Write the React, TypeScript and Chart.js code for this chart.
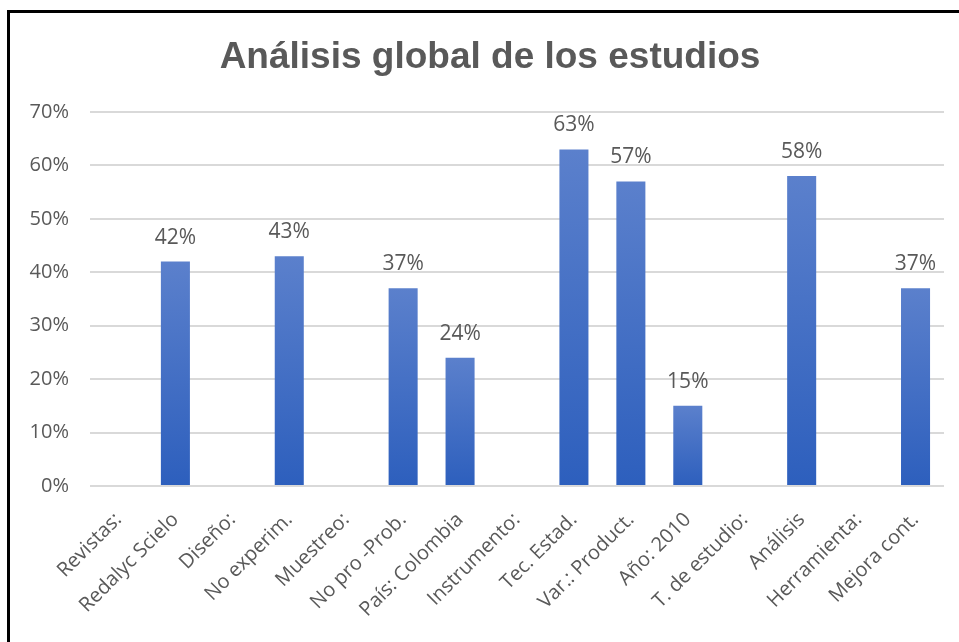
import React, { useEffect, useRef } from "react";
import { Chart, registerables } from "chart.js";

Chart.register(...registerables);

const categories = [
  "Revistas:",
  "Redalyc Scielo",
  "Diseño:",
  "No experim.",
  "Muestreo:",
  "No pro -Prob.",
  "País: Colombia",
  "Instrumento:",
  "Tec. Estad.",
  "Var.: Product.",
  "Año: 2010",
  "T. de estudio:",
  "Análisis",
  "Herramienta:",
  "Mejora cont.",
];
const values: (number | null)[] = [null, 42, null, 43, null, 37, 24, null, 63, 57, 15, null, 58, null, 37];
const yTicks = [0, 10, 20, 30, 40, 50, 60, 70];
const title = "Análisis global de los estudios";

const TEXT = "#595959";

export default function App() {
  const ref = useRef<HTMLCanvasElement | null>(null);

  useEffect(() => {
    const canvas = ref.current;
    if (!canvas) return;

    const framePlugin = {
      id: "frame",
      beforeDraw(chart: any) {
        const c = chart.ctx;
        c.save();
        c.fillStyle = "#ffffff";
        c.fillRect(0, 0, chart.width, chart.height);
        c.fillStyle = "#000000";
        c.fillRect(7, 10, 3, chart.height - 10);
        c.fillRect(7, 10, chart.width - 7, 3);
        c.fillStyle = TEXT;
        c.font = "bold 37px 'Liberation Sans', Arial, sans-serif";
        c.textAlign = "center";
        c.textBaseline = "alphabetic";
        c.fillText(title, 490, 68);
        c.restore();
      },
    };

    const labelPlugin = {
      id: "valueLabels",
      afterDatasetsDraw(chart: any) {
        const c = chart.ctx;
        const meta = chart.getDatasetMeta(0);
        c.save();
        c.fillStyle = TEXT;
        c.font = "21px 'Open Sans', sans-serif";
        c.textAlign = "center";
        c.textBaseline = "alphabetic";
        meta.data.forEach((el: any, i: number) => {
          const v = values[i];
          if (v === null || v === undefined) return;
          c.fillText(v + "%", el.x, el.y - 18);
        });
        c.restore();
      },
    };

    const chart = new Chart(canvas, {
      type: "bar",
      data: {
        labels: categories,
        datasets: [
          {
            data: values as any,
            backgroundColor: (ctx: any) => {
              const ch = ctx.chart;
              const v = values[ctx.dataIndex];
              const ys = ch.scales && ch.scales.y;
              if (!ys || v === null || v === undefined) return "#3a67c2";
              const top = ys.getPixelForValue(v);
              const bottom = ys.getPixelForValue(0);
              if (!isFinite(top) || !isFinite(bottom) || top === bottom) return "#3a67c2";
              const g = ch.ctx.createLinearGradient(0, top, 0, bottom);
              g.addColorStop(0, "#5b80cc");
              g.addColorStop(1, "#2d5fbd");
              return g;
            },
            borderWidth: 0,
            barPercentage: 0.51,
            categoryPercentage: 1,
          },
        ],
      },
      options: {
        animation: false,
        responsive: false,
        layout: { padding: { left: 8, right: 15, top: 112, bottom: 0 } },
        plugins: {
          legend: { display: false },
          title: { display: false },
          tooltip: { enabled: false },
        },
        scales: {
          x: {
            grid: { display: false, drawTicks: false },
            border: { display: false },
            ticks: {
              color: TEXT,
              font: { family: "'Open Sans', sans-serif", size: 20 },
              maxRotation: 45,
              minRotation: 45,
              autoSkip: false,
              padding: 22,
            },
            afterFit: (s: any) => {
              s.height = 156;
            },
          },
          y: {
            min: 0,
            max: 70,
            afterBuildTicks: (s: any) => {
              s.ticks = yTicks.map((v) => ({ value: v }));
            },
            grid: { color: "#d9d9d9", lineWidth: 2, drawTicks: false },
            border: { display: false },
            ticks: {
              color: TEXT,
              font: { family: "'Open Sans', sans-serif", size: 20 },
              padding: 21,
              callback: (v: any) => v + "%",
            },
            afterFit: (s: any) => {
              s.width = 82;
            },
          },
        },
      },
      plugins: [framePlugin, labelPlugin],
    });

    return () => chart.destroy();
  }, []);

  return (
    <div style={{ position: "absolute", left: 0, top: 0, width: 959, height: 642 }}>
      <canvas ref={ref} width={959} height={642} style={{ display: "block" }} />
    </div>
  );
}
